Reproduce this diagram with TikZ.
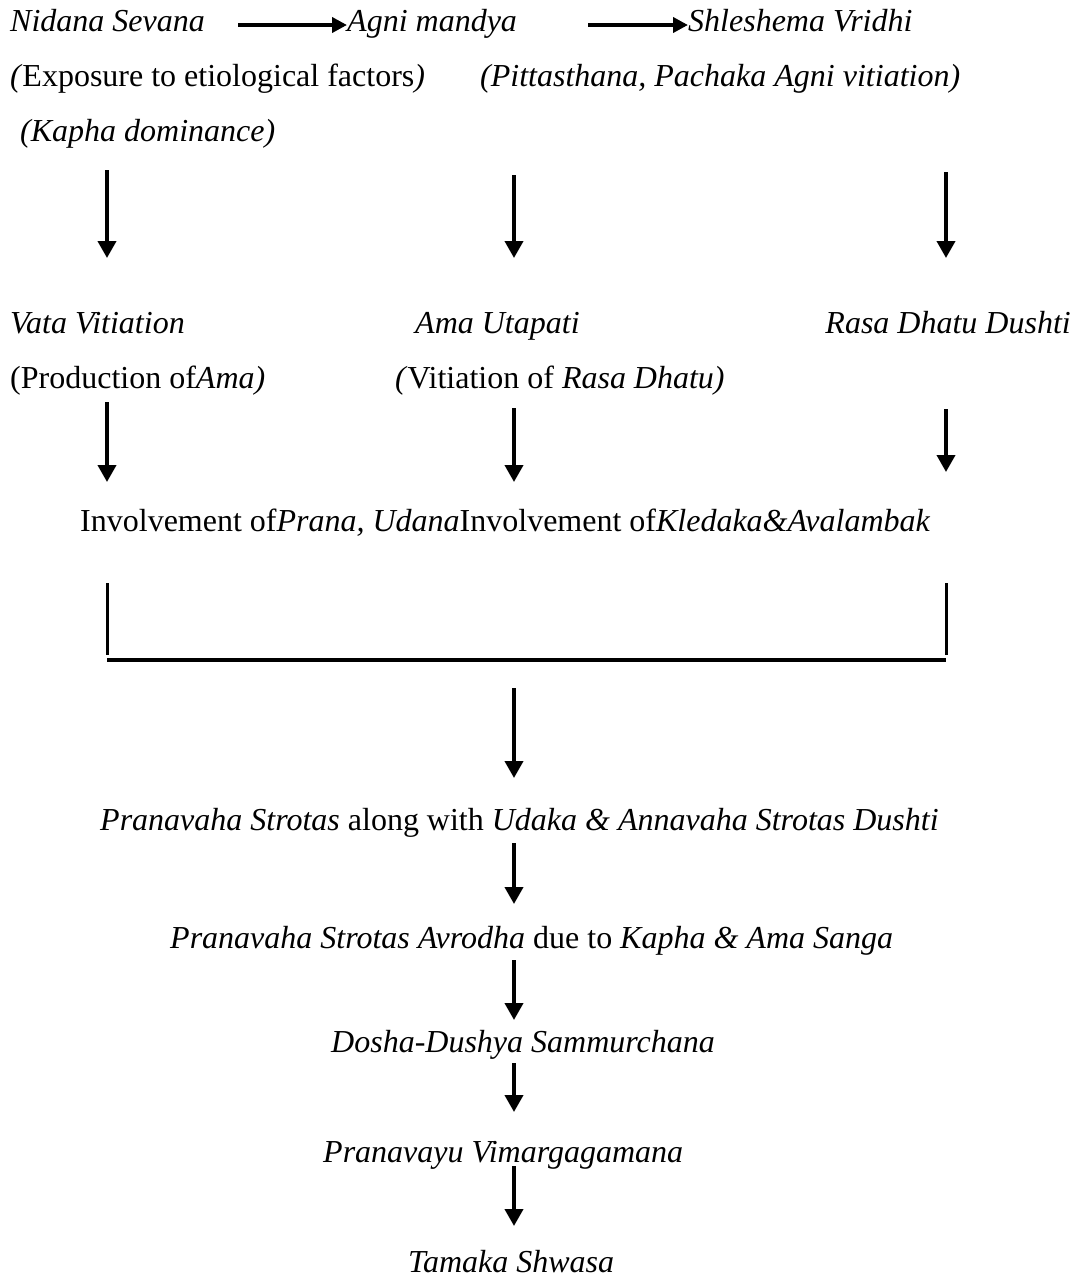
\documentclass[tikz,border=0pt]{standalone}
\usepackage{fontspec}
\setmainfont{Liberation Serif}
\usetikzlibrary{arrows.meta,positioning}

\begin{document}
\begin{tikzpicture}[x=1pt,y=-1pt,text=black,
    node font=\fontsize{32}{38}\selectfont,
    lbl/.style={inner sep=0pt,anchor=base west},
    rlbl/.style={inner sep=0pt,anchor=base east},
    arr/.style={line width=3.8pt,-{Triangle[length=17pt,width=18pt]}},
    harr/.style={line width=4pt,-{Triangle[length=15pt,width=15pt]}},
    bar/.style={line width=3pt},
    hbar/.style={line width=4pt}]

  \useasboundingbox (0,0) rectangle (1078,1278);

  \coordinate (colL) at (107,0);
  \coordinate (colM) at (514,0);
  \coordinate (colR) at (946,0);

  \node (NS) at (10,31) [lbl] {\textit{Nidana Sevana}};
  \node (AM) at (347,31) [lbl] {\textit{Agni mandya}};
  \node (SV) at (688,31) [lbl] {\textit{Shleshema Vridhi}};
  \node (EF) at (10,86) [lbl] {\textit{(}Exposure to etiological factors\textit{)}};
  \node (PA) at (480,86) [lbl] {\textit{(Pittasthana, Pachaka Agni vitiation)}};
  \node (KD) at (20,141) [lbl] {\textit{(Kapha dominance)}};

  \node (VV) at (10,333) [lbl] {\textit{Vata Vitiation}};
  \node (AU) at (415,333) [lbl] {\textit{Ama Utapati}};
  \node (RD) at (1071,333) [rlbl] {\textit{Rasa Dhatu Dushti}};
  \node (PoA) at (10,388) [lbl] {(Production of\textit{Ama)}};
  \node (VoR) at (395,388) [lbl] {\textit{(}Vitiation of \textit{Rasa Dhatu)}};

  \node (INV) at (80,531) [lbl]
        {Involvement of\textit{Prana, Udana}Involvement of\textit{Kledaka\&Avalambak}};

  \coordinate (brL) at (107,660);
  \coordinate (brR) at (946,660);

  \node (PSD) at (100,830) [lbl]
        {\textit{Pranavaha Strotas} along with \textit{Udaka \& Annavaha Strotas Dushti}};
  \node (PSA) at (170,948) [lbl]
        {\textit{Pranavaha Strotas Avrodha} due to \textit{Kapha \& Ama Sanga}};
  \node (DDS) at (331,1052) [lbl] {\textit{Dosha-Dushya Sammurchana}};
  \node (PVV) at (323,1162) [lbl] {\textit{Pranavayu Vimargagamana}};
  \node (TS) at (408,1272) [lbl] {\textit{Tamaka Shwasa}};

  \draw[harr,shorten <=33pt] ([yshift=6pt]NS.base east) -- ([yshift=6pt]AM.base west);
  \draw[harr,shorten <=71pt] ([yshift=6pt]AM.base east) -- ([yshift=6pt]SV.base west);

  \draw[arr,shorten <=29pt,shorten >=75pt] (KD.base -| colL) -- (VV.base -| colL);
  \draw[arr,shorten <=89pt,shorten >=75pt] (PA.base -| colM) -- (AU.base -| colM);
  \draw[arr,shorten <=141pt,shorten >=75pt] (SV.base -| colR) -- (RD.base -| colR);

  \draw[arr,shorten <=14pt,shorten >=49pt] (PoA.base -| colL) -- (INV.base -| colL);
  \draw[arr,shorten <=20pt,shorten >=49pt] (VoR.base -| colM) -- (INV.base -| colM);
  \draw[arr,shorten <=76pt,shorten >=59pt] (RD.base -| colR) -- (INV.base -| colR);

  \draw[bar] ([yshift=77pt]brL) -- ([yshift=5pt]brL);
  \draw[bar] ([yshift=77pt]brR) -- ([yshift=5pt]brR);
  \draw[hbar] (brL) -- (brR);

  \draw[arr,shorten <=28pt,shorten >=52pt] (brL -| colM) -- (PSD.base -| colM);
  \draw[arr,shorten <=13pt,shorten >=44pt] (PSD.base -| colM) -- (PSA.base -| colM);
  \draw[arr,shorten <=12pt,shorten >=32pt] (PSA.base -| colM) -- (DDS.base -| colM);
  \draw[arr,shorten <=11pt,shorten >=50pt] (DDS.base -| colM) -- (PVV.base -| colM);
  \draw[arr,shorten <=4pt,shorten >=46pt] (PVV.base -| colM) -- (TS.base -| colM);

\end{tikzpicture}
\end{document}
